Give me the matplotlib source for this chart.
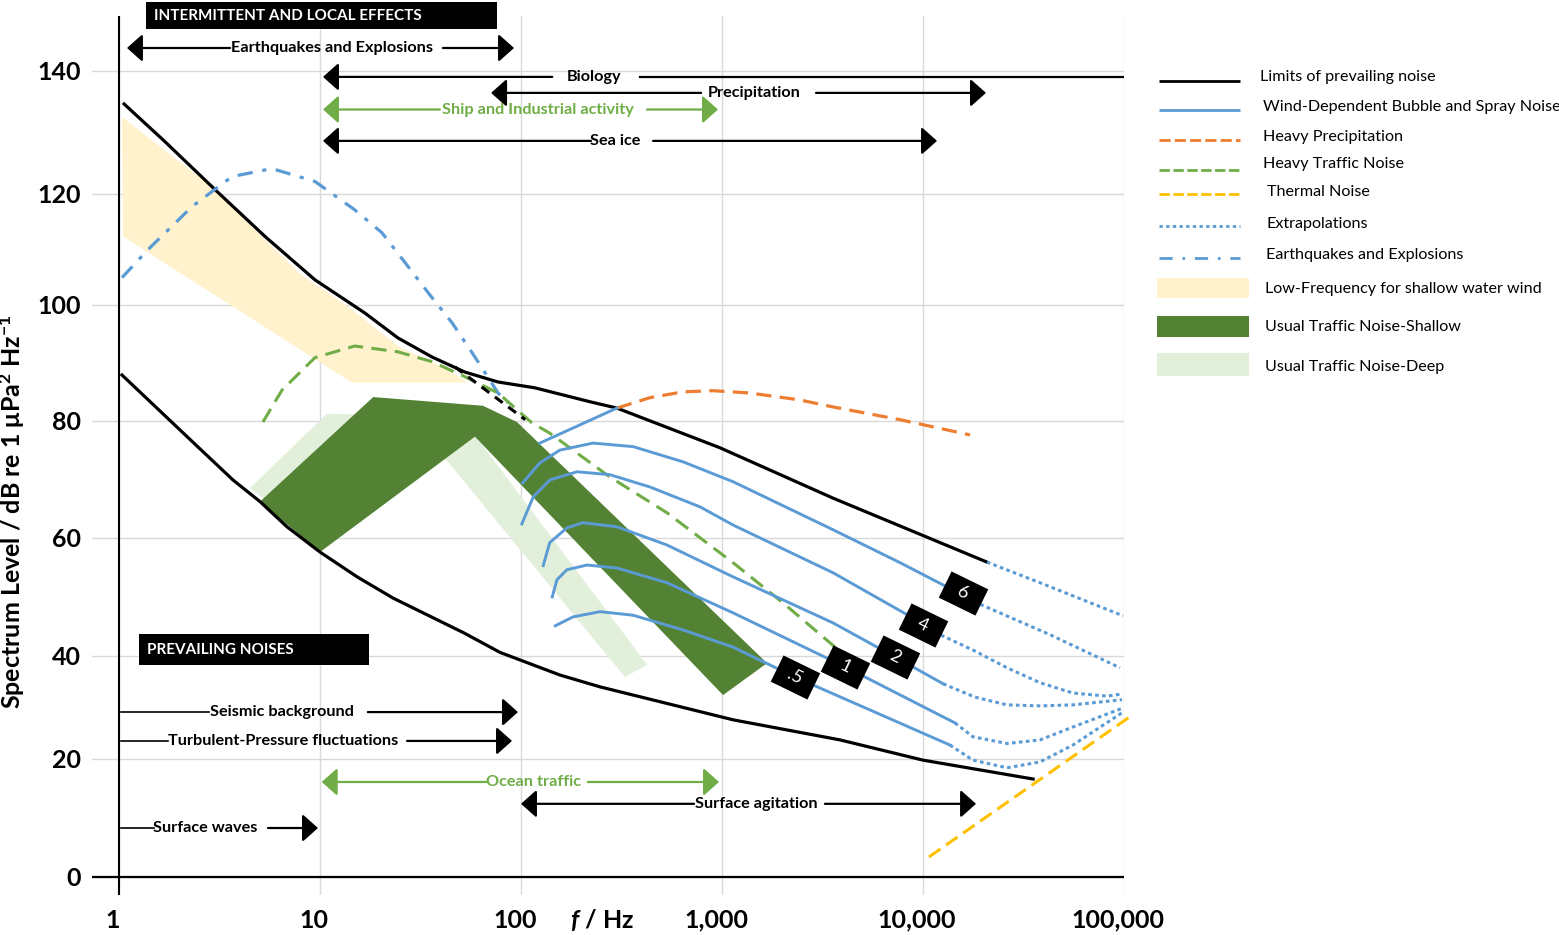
import numpy as np
import matplotlib.pyplot as plt
from matplotlib.markers import MarkerStyle
from matplotlib.transforms import Affine2D, ScaledTranslation
from matplotlib.patches import Rectangle
from matplotlib.ticker import NullLocator

plt.rcParams['font.family'] = ['Lato', 'DejaVu Sans']
plt.rcParams['lines.scale_dashes'] = False
plt.rcParams['mathtext.fontset'] = 'custom'
plt.rcParams['mathtext.rm'] = 'Lato:bold'
plt.rcParams['mathtext.it'] = 'Lato:italic:bold'
plt.rcParams['mathtext.bf'] = 'Lato:bold'

BLUE = '#5B9BD5'
ORANGE = '#ED7D31'
GREEN = '#70AD47'
YELLOW = '#FFC000'
DARK_GREEN = '#548235'
PALE_GREEN = '#E2EFDA'
TAN = '#FFF2CC'
GRID = '#D9D9D9'

# axes
x_ticks = [1, 10, 100, 1000, 10000, 100000]
x_tick_labels = ['1', '10', '100', '1,000', '10,000', '100,000']
y_ticks = [0, 20, 40, 60, 80, 100, 120, 140]
# the printed dB axis is unevenly spaced: relative height of each tick
y_tick_height = [0, 118, 221, 339, 456, 572, 683, 806]

# limits of prevailing noise (Hz, dB)
upper_f = [1.06, 1.69, 3.00, 5.33, 9.44, 16.7, 24.4, 36.1, 52.7, 76.9, 117, 220, 300,
           977, 3565, 20800]
upper_db = [134.6, 128.5, 120.7, 112.3, 104.5, 98.6, 94.3, 91.0, 88.4, 86.7, 85.7, 83.3, 82.2,
            75.4, 66.8, 55.9]
lower_f = [1.035, 2.26, 3.69, 5.03, 6.85, 10, 15.3, 23.1, 52, 78.6, 156, 247, 1135, 3865,
           10000, 35300]
lower_db = [87.9, 76.8, 69.9, 66.2, 61.9, 57.6, 53.4, 49.8, 43.9, 40.6, 36.3, 34.0, 27.6, 23.7,
            19.8, 16.6]

# low-frequency shallow water wind band
tan_f = [1.035, 2.9, 7.94, 13.8, 24.4, 43.3, 54.5, 14.4, 1.047]
tan_db = [132.5, 121.1, 105.6, 99.7, 92.9, 88.8, 86.6, 86.6, 112.3]

# usual traffic noise
shallow_f = [5.03, 18.4, 64.7, 95.5, 1675, 1012, 59.0, 10]
shallow_db = [66.2, 84.1, 82.6, 79.8, 38.6, 32.4, 77.3, 57.6]
deep_f = [4.48, 10.8, 46.9, 62.5, 424, 329, 43.3, 31.4, 6.32]
deep_db = [68.5, 81.2, 80.9, 76.4, 38.3, 35.9, 73.0, 76.8, 64.8]

# earthquakes and explosions
quake_f = [1.035, 1.39, 2.31, 3.65, 5.77, 9.44, 14.9, 20.3, 26.5, 34.5, 45.4, 59.0, 76.9, 86.1]
quake_db = [104.9, 109.9, 117.7, 122.8, 124.1, 122.0, 117.1, 113.0, 107.6, 102.2, 96.9, 91.0,
            84.8, 83.1]

# heavy traffic noise
traffic_f = [5.2, 6.47, 9.44, 14.9, 24.4, 36.1, 52.7, 76.9, 113, 139, 277, 532, 1135, 2010, 3650]
traffic_db = [79.8, 85.3, 90.9, 92.9, 91.9, 90.2, 87.6, 84.8, 79.7, 77.9, 70.4, 64.3, 55.8, 49.0,
              41.5]
overlap_f = [46.9, 105]
overlap_db = [89.3, 80.2]

# heavy precipitation
precip_f = [300, 438, 640, 902, 1377, 2443, 3565, 7690, 17130]
precip_db = [82.2, 84.0, 85.0, 85.2, 84.8, 83.6, 82.4, 80.2, 77.6]

# thermal noise
thermal_f = [10710, 107000]
thermal_db = [3.4, 28.2]

# wind-dependent bubble and spray noise
wind_labels = ['.5', '1', '2', '4', '6']
wind_label_f = [2307, 4090, 7260, 10000, 15810]
wind_label_db = [35.9, 37.9, 39.8, 45.3, 50.7]
wind_05_f = [148, 181, 247, 361, 640, 1135, 2307, 13620]
wind_05_db = [45.1, 46.6, 47.5, 46.9, 44.4, 41.5, 35.9, 22.7]
wind_1_f = [143, 151, 169, 213, 300, 532, 1135, 4090, 14420]
wind_1_db = [50.0, 52.9, 54.6, 55.4, 54.9, 52.4, 47.3, 37.9, 27.0]
wind_2_f = [129, 139, 169, 203, 300, 532, 1135, 3565, 7260, 12590]
wind_2_db = [55.3, 59.2, 61.7, 62.6, 61.9, 58.8, 53.4, 45.6, 39.8, 34.6]
wind_4_f = [101, 115, 139, 190, 277, 438, 778, 1135, 3565, 8320, 10000]
wind_4_db = [62.4, 67.0, 69.9, 71.3, 70.8, 68.7, 65.3, 62.2, 54.1, 47.0, 45.3]
wind_6_f = [102, 124, 156, 228, 361, 640, 1135, 3565, 7690, 13150, 15810]
wind_6_db = [69.4, 72.8, 75.0, 76.2, 75.6, 73.0, 69.6, 61.4, 55.8, 51.7, 50.7]
wind_top_f = [124, 300]
wind_top_db = [76.2, 82.2]

# extrapolations (dotted)
ext_upper_f = [20800, 38200, 98900]
ext_upper_db = [55.9, 52.4, 46.8]
ext_6_f = [15810, 19680, 42850, 95500]
ext_6_db = [50.7, 48.6, 43.6, 37.7]
ext_4_f = [10000, 12160, 17730, 26180, 38200, 55700, 82300, 97700]
ext_4_db = [45.3, 43.6, 41.0, 37.7, 34.8, 32.8, 32.2, 32.6]
ext_2_f = [12590, 18150, 26180, 38200, 55700, 97700]
ext_2_db = [34.6, 32.0, 30.5, 30.3, 30.5, 31.5]
ext_1_f = [14420, 17730, 26180, 38200, 55700, 98900]
ext_1_db = [27.0, 24.3, 23.0, 23.7, 26.2, 29.9]
ext_05_f = [13620, 17730, 26180, 38200, 55700, 98900]
ext_05_db = [22.7, 19.8, 18.5, 19.5, 22.7, 29.1]

# frequency ranges of the sources (Hz) and the level they are drawn at (dB)
range_labels = ['Earthquakes and Explosions', 'Biology', 'Precipitation',
                'Ship and Industrial activity', 'Sea ice', 'Seismic background',
                'Turbulent-Pressure fluctuations', 'Ocean traffic',
                'Surface agitation', 'Surface waves']
range_level = [143.7, 139.0, 136.4, 133.7, 128.6, 29.1, 23.5, 16.1, 12.4, 8.3]
range_start = [1.096, 10.35, 71, 10.35, 10.35, 1.023, 1.023, 10.2, 100, 1.023]
range_text_start = [3.57, 143, 787, 39.5, 223, 2.8, 1.75, 67, 726, 1.49]
range_text_mid = [11.5, 231, 1443, 121.5, 294, 6.47, 6.54, 115, 1476, 2.68]
range_text_end = [40.9, 391, 2936, 424, 454, 17.3, 27.1, 215, 3251, 5.51]
range_end = [92.3, 100000, 20570, 955, 11740, 96.6, 90.2, 966, 18360, 9.77]
range_open_start = [True, True, True, True, True, False, False, True, True, False]
range_open_end = [True, False, True, True, True, True, True, True, True, True]
range_green = [False, False, False, True, False, False, False, True, False, False]


def piecewise(v, xs, ys):
    v = np.asarray(v, dtype=float)
    xs = np.asarray(xs, dtype=float)
    ys = np.asarray(ys, dtype=float)
    out = np.interp(v, xs, ys)
    out = np.where(v < xs[0], ys[0] + (v - xs[0]) * (ys[1] - ys[0]) / (xs[1] - xs[0]), out)
    out = np.where(v > xs[-1], ys[-1] + (v - xs[-1]) * (ys[-1] - ys[-2]) / (xs[-1] - xs[-2]), out)
    return out


def db_forward(v):
    return piecewise(v, y_ticks, y_tick_height)


def db_inverse(h):
    return piecewise(h, y_tick_height, y_ticks)


fig = plt.figure(figsize=(15.59, 9.35), dpi=100)
ax = fig.add_axes([92 / 1559, 40 / 935, 1032 / 1559, 879 / 935])
ax.set_xscale('log')
ax.set_yscale('function', functions=(db_forward, db_inverse))
ax.set_xlim(10 ** (-27 / 201), 1e5)
ax.set_ylim(-3.05, 148.9)
ax.set_xticks(x_ticks, x_tick_labels)
ax.set_yticks(y_ticks)
ax.xaxis.set_minor_locator(NullLocator())
ax.yaxis.set_minor_locator(NullLocator())
ax.tick_params(length=0, labelsize=18)
ax.tick_params(axis='x', pad=10)
ax.tick_params(axis='y', pad=8)
for lbl in ax.get_xticklabels() + ax.get_yticklabels():
    lbl.set_fontweight('bold')
for lbl in ax.get_xticklabels():
    lbl.set_transform(lbl.get_transform() + ScaledTranslation(-0.06, 0, fig.dpi_scale_trans))
ax.grid(True, color=GRID, lw=1)
ax.set_axisbelow(True)
for s in ax.spines.values():
    s.set_visible(False)
ax.axvline(1, color='k', lw=1.5, zorder=3)
ax.axhline(0, color='k', lw=1.6, zorder=3)

# filled bands
ax.fill(tan_f, tan_db, color=TAN, lw=0, zorder=1)
ax.fill(deep_f, deep_db, color=PALE_GREEN, lw=0, zorder=1)
ax.fill(shallow_f, shallow_db, color=DARK_GREEN, lw=0, zorder=1.5)

# curves
ax.plot(upper_f, upper_db, color='k', lw=2.3, zorder=4)
ax.plot(lower_f, lower_db, color='k', lw=2.3, zorder=4)
ax.plot(quake_f, quake_db, color=BLUE, lw=2.3, dashes=(11, 7, 3, 7), zorder=4)
ax.plot(traffic_f, traffic_db, color=GREEN, lw=2.2, dashes=(11, 6), zorder=4)
ax.plot(overlap_f, overlap_db, color='k', lw=2.2, dashes=(7, 5), zorder=4)
ax.plot(precip_f, precip_db, color=ORANGE, lw=2.3, dashes=(11, 6), zorder=4)
ax.plot(thermal_f, thermal_db, color=YELLOW, lw=2.2, dashes=(10, 5), zorder=4, clip_on=False)

wind = [(wind_05_f, wind_05_db), (wind_1_f, wind_1_db), (wind_2_f, wind_2_db),
        (wind_4_f, wind_4_db), (wind_6_f, wind_6_db), (wind_top_f, wind_top_db)]
for f, db in wind:
    ax.plot(f, db, color=BLUE, lw=2.1, zorder=4)
ext = [(ext_upper_f, ext_upper_db), (ext_6_f, ext_6_db), (ext_4_f, ext_4_db),
       (ext_2_f, ext_2_db), (ext_1_f, ext_1_db), (ext_05_f, ext_05_db)]
for f, db in ext:
    ax.plot(f, db, color=BLUE, lw=2.2, dashes=(2.6, 2.4), zorder=4, clip_on=False)

# wind speed tags
tag = MarkerStyle('s', transform=Affine2D().scale(1.4, 1.0).rotate_deg(-26))
ax.scatter(wind_label_f, wind_label_db, marker=tag, s=21 ** 2, c='k', linewidths=0, zorder=6)
for f, db, lab in zip(wind_label_f, wind_label_db, wind_labels):
    ax.text(f, db, lab, color='white', fontsize=13, rotation=-26, rotation_mode='anchor',
            ha='center', va='center', zorder=7)

# source frequency ranges
for i, lab in enumerate(range_labels):
    col = GREEN if range_green[i] else 'k'
    lw = 1.6
    y = range_level[i]
    head = dict(arrowstyle='-|>,head_length=0.95,head_width=0.85', color=col, lw=lw,
                shrinkA=0, shrinkB=0, mutation_scale=10)
    if range_open_start[i]:
        ax.annotate('', xy=(range_start[i], y), xytext=(range_text_start[i], y),
                    arrowprops=head, zorder=5)
    else:
        ax.plot([range_start[i], range_text_start[i]], [y, y], color=col, lw=1.2, zorder=5)
    if range_open_end[i]:
        ax.annotate('', xy=(range_end[i], y), xytext=(range_text_end[i], y),
                    arrowprops=head, zorder=5)
    else:
        ax.plot([range_text_end[i], range_end[i]], [y, y], color=col, lw=lw, zorder=5)
    ax.text(range_text_mid[i], y, lab, ha='center', va='center', fontsize=11.7,
            fontweight='bold', color=col, zorder=5)

# axis titles
fig.text(12 / 1559, 1 - 512 / 935, r'Spectrum Level / dB re 1 μPa$^{2}$ Hz$^{-1}$',
         rotation=90, ha='center', va='center', fontsize=18, fontweight='bold')
fig.text(602 / 1559, 1 - 920 / 935, r'$f$ / Hz', ha='center', va='center',
         fontsize=18, fontweight='bold')

# overlay in pixel units for headers and legend
ov = fig.add_axes([0, 0, 1, 1], zorder=10)
ov.set_xlim(0, 1559)
ov.set_ylim(935, 0)
ov.axis('off')
ov.patch.set_visible(False)

ov.add_patch(Rectangle((146, 2), 351, 27, fc='k', ec='none'))
ov.text(154, 16, 'INTERMITTENT AND LOCAL EFFECTS', color='white', fontsize=11,
        fontweight='bold', va='center')
ov.add_patch(Rectangle((139, 634), 230, 31, fc='k', ec='none'))
ov.text(147, 650, 'PREVAILING NOISES', color='white', fontsize=11,
        fontweight='bold', va='center')

legend_lines = [
    ('Limits of prevailing noise', 'k', None, 81, 77, 1260),
    ('Wind-Dependent Bubble and Spray Noise', BLUE, None, 110, 107, 1263),
    ('Heavy Precipitation', ORANGE, (8, 3), 140, 137, 1263),
    ('Heavy Traffic Noise', GREEN, (7.5, 2.5), 170, 164, 1263),
    ('Thermal Noise', YELLOW, (7.5, 2.5), 194, 192, 1267),
    ('Extrapolations', BLUE, (2.4, 2.4), 226, 224, 1267),
    ('Earthquakes and Explosions', BLUE, (9.5, 7, 2, 7), 258, 255, 1266),
]
for lab, col, dash, ly, ty, tx in legend_lines:
    kw = {} if dash is None else {'dashes': dash}
    ov.plot([1159, 1240], [ly, ly], color=col, lw=2.0, solid_capstyle='butt', **kw)
    ov.text(tx, ty, lab, fontsize=11.6, va='center')
legend_boxes = [
    ('Low-Frequency for shallow water wind', TAN, 278, 298, 289),
    ('Usual Traffic Noise-Shallow', DARK_GREEN, 316, 337, 327),
    ('Usual Traffic Noise-Deep', PALE_GREEN, 353, 376, 367),
]
for lab, col, y0, y1, ty in legend_boxes:
    ov.add_patch(Rectangle((1157, y0), 92, y1 - y0, fc=col, ec='none'))
    ov.text(1265, ty, lab, fontsize=11.6, va='center')

fig.savefig('out.png', dpi=100)
